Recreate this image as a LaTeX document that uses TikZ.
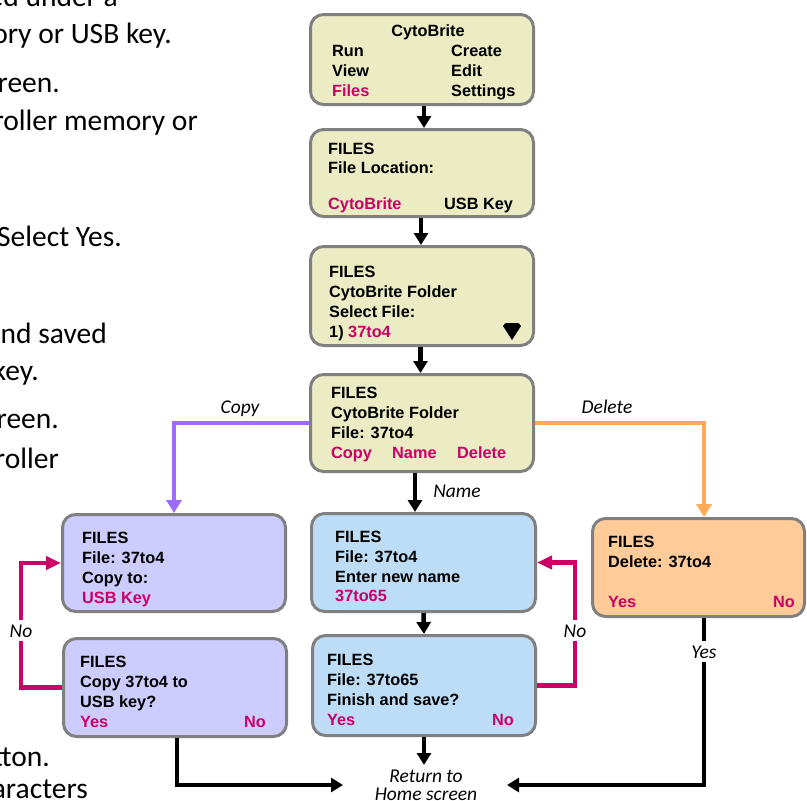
\documentclass[tikz,border=0pt]{standalone}
\usepackage{fontspec}
\setmainfont{Carlito}
\newfontfamily\boxfont{Liberation Sans}
\usetikzlibrary{arrows.meta}
\definecolor{mag}{RGB}{204,0,102}
\definecolor{olivebox}{RGB}{235,235,196}
\definecolor{lilacbox}{RGB}{204,204,255}
\definecolor{bluebox}{RGB}{189,220,246}
\definecolor{orangebox}{RGB}{255,204,153}
\definecolor{bordergray}{RGB}{128,128,128}
\definecolor{purpleline}{RGB}{158,106,255}
\definecolor{orangeline}{RGB}{255,170,85}
\tikzset{
  scr/.style={draw=bordergray, line width=3pt, rounded corners=13pt, inner sep=0pt},
  tx/.style={font=\boxfont\bfseries\fontsize{16.3}{19}\selectfont, inner sep=0pt, anchor=base west},
  lbl/.style={font=\itshape\fontsize{19.5}{22}\selectfont, inner sep=0pt, anchor=base},
  doc/.style={font=\fontsize{29.5}{34}\selectfont, inner sep=0pt, anchor=base east},
  blk/.style={line width=4.5pt, -{Triangle[width=14pt,length=12pt]}},
  cpy/.style={draw=purpleline, line width=4.5pt, -{Triangle[width=15pt,length=13pt]}},
  del/.style={draw=orangeline, line width=4.5pt, -{Triangle[width=15pt,length=13pt]}},
  nol/.style={draw=mag, line width=4.5pt, -{Triangle[width=13pt,length=15pt]}},
}
\begin{document}
\begin{tikzpicture}[x=1pt,y=-1pt]
\clip (0,0) rectangle (807,801);
\fill[white] (0,0) rectangle (807,801);

% document text fragments at left
\node[doc] (d1) at (118,6) {ed under a};
\node[doc] (d2) at (172,43) {ory or USB key.};
\node[doc] (d3) at (60,92) {reen.};
\node[doc] (d4) at (198,130) {roller memory or};
\node[doc] (d5) at (122,246) {Select Yes.};
\node[doc] (d6) at (107,343) {nd saved};
\node[doc] (d7) at (39,380) {key.};
\node[doc] (d8) at (59,428) {reen.};
\node[doc] (d9) at (59,468) {roller};
\node[doc] (d10) at (50,766) {tton.};
\node[doc] (d11) at (88,798) {aracters};

% screens
\node[scr, fill=olivebox, minimum width=223pt, minimum height=90pt] (b1) at (422,59.5) {};
\node[scr, fill=olivebox, minimum width=223pt, minimum height=87pt] (b2) at (422,173) {};
\node[scr, fill=olivebox, minimum width=223pt, minimum height=99pt] (b3) at (422,296) {};
\node[scr, fill=olivebox, minimum width=223pt, minimum height=97pt] (b4) at (422,423) {};
\node[scr, fill=lilacbox, minimum width=223pt, minimum height=97pt] (l1) at (174,563) {};
\node[scr, fill=lilacbox, minimum width=223pt, minimum height=98pt] (l2) at (175,687.5) {};
\node[scr, fill=bluebox, minimum width=224pt, minimum height=98pt] (m1) at (423.5,562.5) {};
\node[scr, fill=bluebox, minimum width=223pt, minimum height=100pt] (m2) at (424,685.5) {};
\node[scr, fill=orangebox, minimum width=212pt, minimum height=98pt] (r) at (698.5,567.5) {};

% screen texts
\node[tx, anchor=base] (t1a) at (428,36) {CytoBrite};
\node[tx] (t1b) at (332,56) {Run};
\node[tx] (t1c) at (332,76) {View};
\node[tx, text=mag] (t1d) at (332,96) {Files};
\node[tx] (t1e) at (451,56) {Create};
\node[tx] (t1f) at (451,76) {Edit};
\node[tx] (t1g) at (451,96) {Settings};

\node[tx] (t2a) at (328,154) {FILES};
\node[tx] (t2b) at (328,173) {File Location:};
\node[tx, text=mag] (t2c) at (328,209) {CytoBrite};
\node[tx] (t2d) at (444,209) {USB Key};

\node[tx] (t3a) at (329,277) {FILES};
\node[tx] (t3b) at (329,297) {CytoBrite Folder};
\node[tx] (t3c) at (329,317) {Select File:};
\node[tx] (t3d) at (329,337) {1) \textcolor{mag}{37to4}};
\fill (503,326) -- (505.5,323) -- (518.5,323) -- (521,326) -- (512,340) -- cycle;

\node[tx] (t4a) at (331,398) {FILES};
\node[tx] (t4b) at (331,418) {CytoBrite Folder};
\node[tx] (t4c) at (331,438) {File: 37to4};
\node[tx, text=mag] (t4d) at (331,458) {Copy};
\node[tx, text=mag] (t4e) at (392,458) {Name};
\node[tx, text=mag] (t4f) at (457,458) {Delete};

\node[tx] (tl1a) at (82,543) {FILES};
\node[tx] (tl1b) at (82,563) {File: 37to4};
\node[tx] (tl1c) at (82,583) {Copy to:};
\node[tx, text=mag] (tl1d) at (82,603) {USB Key};

\node[tx] (tl2a) at (80,667) {FILES};
\node[tx] (tl2b) at (80,687) {Copy 37to4 to};
\node[tx] (tl2c) at (80,707) {USB key?};
\node[tx, text=mag] (tl2d) at (80,727) {Yes};
\node[tx, text=mag, anchor=base east] (tl2e) at (266,727) {No};

\node[tx] (tm1a) at (335,542) {FILES};
\node[tx] (tm1b) at (335,562) {File: 37to4};
\node[tx] (tm1c) at (335,582) {Enter new name};
\node[tx, text=mag] (tm1d) at (335,601) {37to65};

\node[tx] (tm2a) at (327,665) {FILES};
\node[tx] (tm2b) at (327,685) {File: 37to65};
\node[tx] (tm2c) at (327,705) {Finish and save?};
\node[tx, text=mag] (tm2d) at (327,725) {Yes};
\node[tx, text=mag, anchor=base east] (tm2e) at (514,725) {No};

\node[tx] (tra) at (608,547) {FILES};
\node[tx] (trb) at (608,567) {Delete: 37to4};
\node[tx, text=mag] (trc) at (608,607) {Yes};
\node[tx, text=mag, anchor=base east] (trd) at (795,607) {No};

% return text
\node[lbl] (ret) at (426,782) {Return to};
\node[lbl] (ret2) at (426,800) {Home screen};
\coordinate (retT) at (424,765);
\coordinate (retL) at (343,785);
\coordinate (retR) at (507,785);

% main chain
\draw[blk] ([xshift=2pt]b1.south) -- ([xshift=2pt]b2.north);
\draw[blk] ([xshift=-1pt]b2.south) -- ([xshift=-1pt]b3.north);
\draw[blk] ([xshift=-1.5pt]b3.south) -- ([xshift=-1.5pt]b4.north);
\draw[blk] ([xshift=-7pt]b4.south) -- ([xshift=-8.5pt]m1.north);
\draw[blk] (m1.south) -- (m2.north);
\draw[blk] (m2.south) -- (retT);

% branches
\draw[cpy] (b4.west) -| (l1.north);
\draw[del] (b4.east) -| ([xshift=5.5pt]r.north);
\draw[blk] ([xshift=2pt]l2.south) |- (retL);
\draw[blk] ([xshift=5.5pt]r.south) |- (retR);
\draw[nol] (l2.west) -- (21,687.5) |- (l1.west);
\draw[nol] (m2.east) -- (575,685.5) |- (m1.east);

% labels
\node[lbl] (lc) at (240,413) {Copy};
\node[lbl] (ld) at (607,413) {Delete};
\node[lbl] (ln) at (457,497) {Name};
\node[lbl, fill=white, inner ysep=4pt] (lno1) at (21,637) {No};
\node[lbl, fill=white, inner ysep=4pt] (lno2) at (575,637) {No};
\node[lbl, fill=white, inner ysep=4pt] (lyes) at (704,658) {Yes};
\end{tikzpicture}
\end{document}
